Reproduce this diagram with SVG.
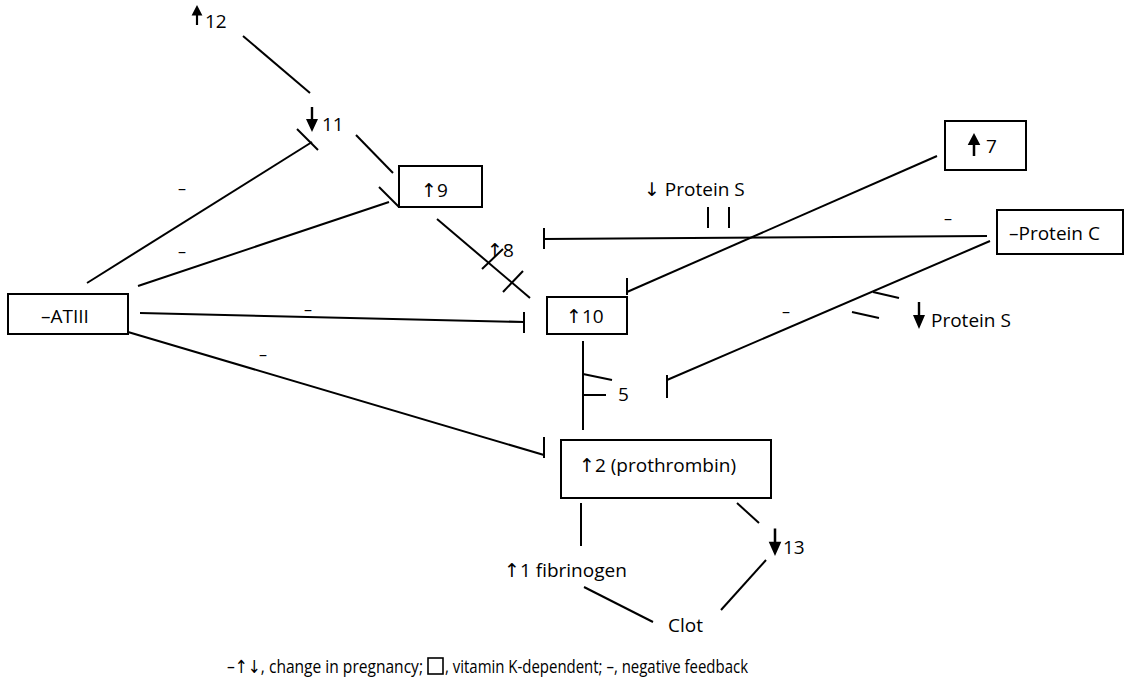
<svg xmlns="http://www.w3.org/2000/svg" width="1126" height="688" viewBox="0 0 1126 688">
  <style>
    text { font-family: "Open Sans", "DejaVu Sans", sans-serif; font-size: 19px; fill: #000; }
    .neg { font-size: 16px; text-anchor: middle; }
    .box { fill: #fff; stroke: #000; stroke-width: 2; }
    .ln { fill: none; stroke: #000; stroke-width: 2; stroke-linecap: butt; }
    .legend { font-size: 18px; }
  </style>
  <defs>
    <!-- bold arrow, tip at origin pointing up -->
    <path id="boldUp" d="M0,0 L6,13 L1.2,13 L1.2,25 L-1.2,25 L-1.2,13 L-6,13 Z" fill="#000"/>
  </defs>

  <rect width="1126" height="688" fill="#fff"/>

  <!-- connectors -->
  <g id="connectors">
    <!-- 12 to 11 -->
    <line class="ln" x1="243" y1="36" x2="310" y2="93"/>
    <!-- 11 to 9 -->
    <line class="ln" x1="356" y1="135" x2="393" y2="173"/>
    <!-- ATIII inhibits 11 -->
    <line class="ln" x1="87" y1="283" x2="312" y2="142"/>
    <line class="ln" x1="297" y1="129" x2="318" y2="150"/>
    <!-- ATIII inhibits 9 -->
    <line class="ln" x1="138" y1="286" x2="389" y2="202"/>
    <line class="ln" x1="379" y1="187" x2="399" y2="207"/>
    <!-- 9 to 10 through 8 -->
    <line class="ln" x1="437" y1="219" x2="530" y2="298"/>
    <line class="ln" x1="482" y1="269" x2="503" y2="249"/>
    <line class="ln" x1="503" y1="292" x2="523" y2="271"/>
    <!-- ATIII inhibits 10 -->
    <line class="ln" x1="140" y1="313" x2="524" y2="322"/>
    <line class="ln" x1="524" y1="312" x2="524" y2="333"/>
    <!-- ATIII inhibits 2 -->
    <line class="ln" x1="128" y1="332" x2="544" y2="455"/>
    <line class="ln" x1="544" y1="437" x2="544" y2="458"/>
    <!-- Protein C inhibits 8 -->
    <line class="ln" x1="544" y1="239" x2="987" y2="236"/>
    <line class="ln" x1="544" y1="228" x2="544" y2="249"/>
    <line class="ln" x1="708" y1="207" x2="708" y2="228"/>
    <line class="ln" x1="729" y1="207" x2="729" y2="228"/>
    <!-- 7 to 10 -->
    <line class="ln" x1="937" y1="156" x2="627" y2="292"/>
    <line class="ln" x1="627" y1="278" x2="627" y2="295"/>
    <!-- Protein C inhibits 5 -->
    <line class="ln" x1="990" y1="241" x2="667" y2="380"/>
    <line class="ln" x1="667" y1="375" x2="667" y2="398"/>
    <line class="ln" x1="873" y1="292" x2="899" y2="298"/>
    <line class="ln" x1="852" y1="312" x2="879" y2="318"/>
    <!-- 10 to 2 through 5 -->
    <line class="ln" x1="583" y1="341" x2="583" y2="430"/>
    <line class="ln" x1="583" y1="374" x2="612" y2="380"/>
    <line class="ln" x1="583" y1="395" x2="606" y2="395"/>
    <!-- 2 to 1 and 13 -->
    <line class="ln" x1="581" y1="503" x2="581" y2="546"/>
    <line class="ln" x1="737" y1="503" x2="759" y2="523"/>
    <!-- to clot -->
    <line class="ln" x1="584" y1="587" x2="653" y2="622"/>
    <line class="ln" x1="766" y1="560" x2="721" y2="610"/>
  </g>

  <!-- negative feedback marks -->
  <g id="feedback-marks">
    <text class="neg" x="182" y="194">–</text>
    <text class="neg" x="182" y="257">–</text>
    <text class="neg" x="308" y="315">–</text>
    <text class="neg" x="263" y="360">–</text>
    <text class="neg" x="948" y="224">–</text>
    <text class="neg" x="786" y="317">–</text>
  </g>

  <!-- nodes -->
  <g id="node-12">
    <use href="#boldUp" transform="translate(197,5) scale(0.9,0.8)"/>
    <text x="205" y="28">12</text>
  </g>
  <g id="node-11">
    <use href="#boldUp" transform="translate(312,132) rotate(180)"/>
    <text x="322" y="131">11</text>
  </g>
  <g id="node-9">
    <rect class="box" x="399" y="166" width="83" height="41"/>
    <text x="421" y="197">↑9</text>
  </g>
  <g id="node-8">
    <text x="487" y="257">↑8</text>
  </g>
  <g id="node-7">
    <rect class="box" x="945" y="121" width="81" height="49"/>
    <use href="#boldUp" transform="translate(974,133) scale(1.05,0.92)"/>
    <text x="986" y="153">7</text>
  </g>
  <g id="node-protein-s-top">
    <text x="644" y="196">↓ Protein S</text>
  </g>
  <g id="node-protein-c">
    <rect class="box" x="997" y="210" width="126" height="44"/>
    <text x="1009" y="240">–Protein C</text>
  </g>
  <g id="node-atiii">
    <rect class="box" x="8" y="294" width="120" height="40"/>
    <text x="41" y="323">–ATIII</text>
  </g>
  <g id="node-10">
    <rect class="box" x="547" y="297" width="80" height="37"/>
    <text x="566" y="323">↑10</text>
  </g>
  <g id="node-protein-s-bottom">
    <use href="#boldUp" transform="translate(919,329) rotate(180) scale(1,1.08)"/>
    <text x="931" y="327">Protein S</text>
  </g>
  <g id="node-5">
    <text x="618" y="401">5</text>
  </g>
  <g id="node-2">
    <rect class="box" x="561" y="440" width="210" height="58"/>
    <text x="579" y="472">↑2 (prothrombin)</text>
  </g>
  <g id="node-13">
    <use href="#boldUp" transform="translate(775,556) rotate(180) scale(1.05,1.1)"/>
    <text x="783" y="554">13</text>
  </g>
  <g id="node-1">
    <text x="504" y="577">↑1 fibrinogen</text>
  </g>
  <g id="node-clot">
    <text x="668" y="632">Clot</text>
  </g>

  <!-- key -->
  <g id="legend">
    <text class="legend" x="227" y="673" textLength="196" lengthAdjust="spacingAndGlyphs">–↑↓, change in pregnancy;</text>
    <rect x="428" y="658" width="15" height="16" fill="none" stroke="#000" stroke-width="1.6"/>
    <text class="legend" x="445" y="673" textLength="303" lengthAdjust="spacingAndGlyphs">, vitamin K-dependent; –, negative feedback</text>
  </g>
</svg>
